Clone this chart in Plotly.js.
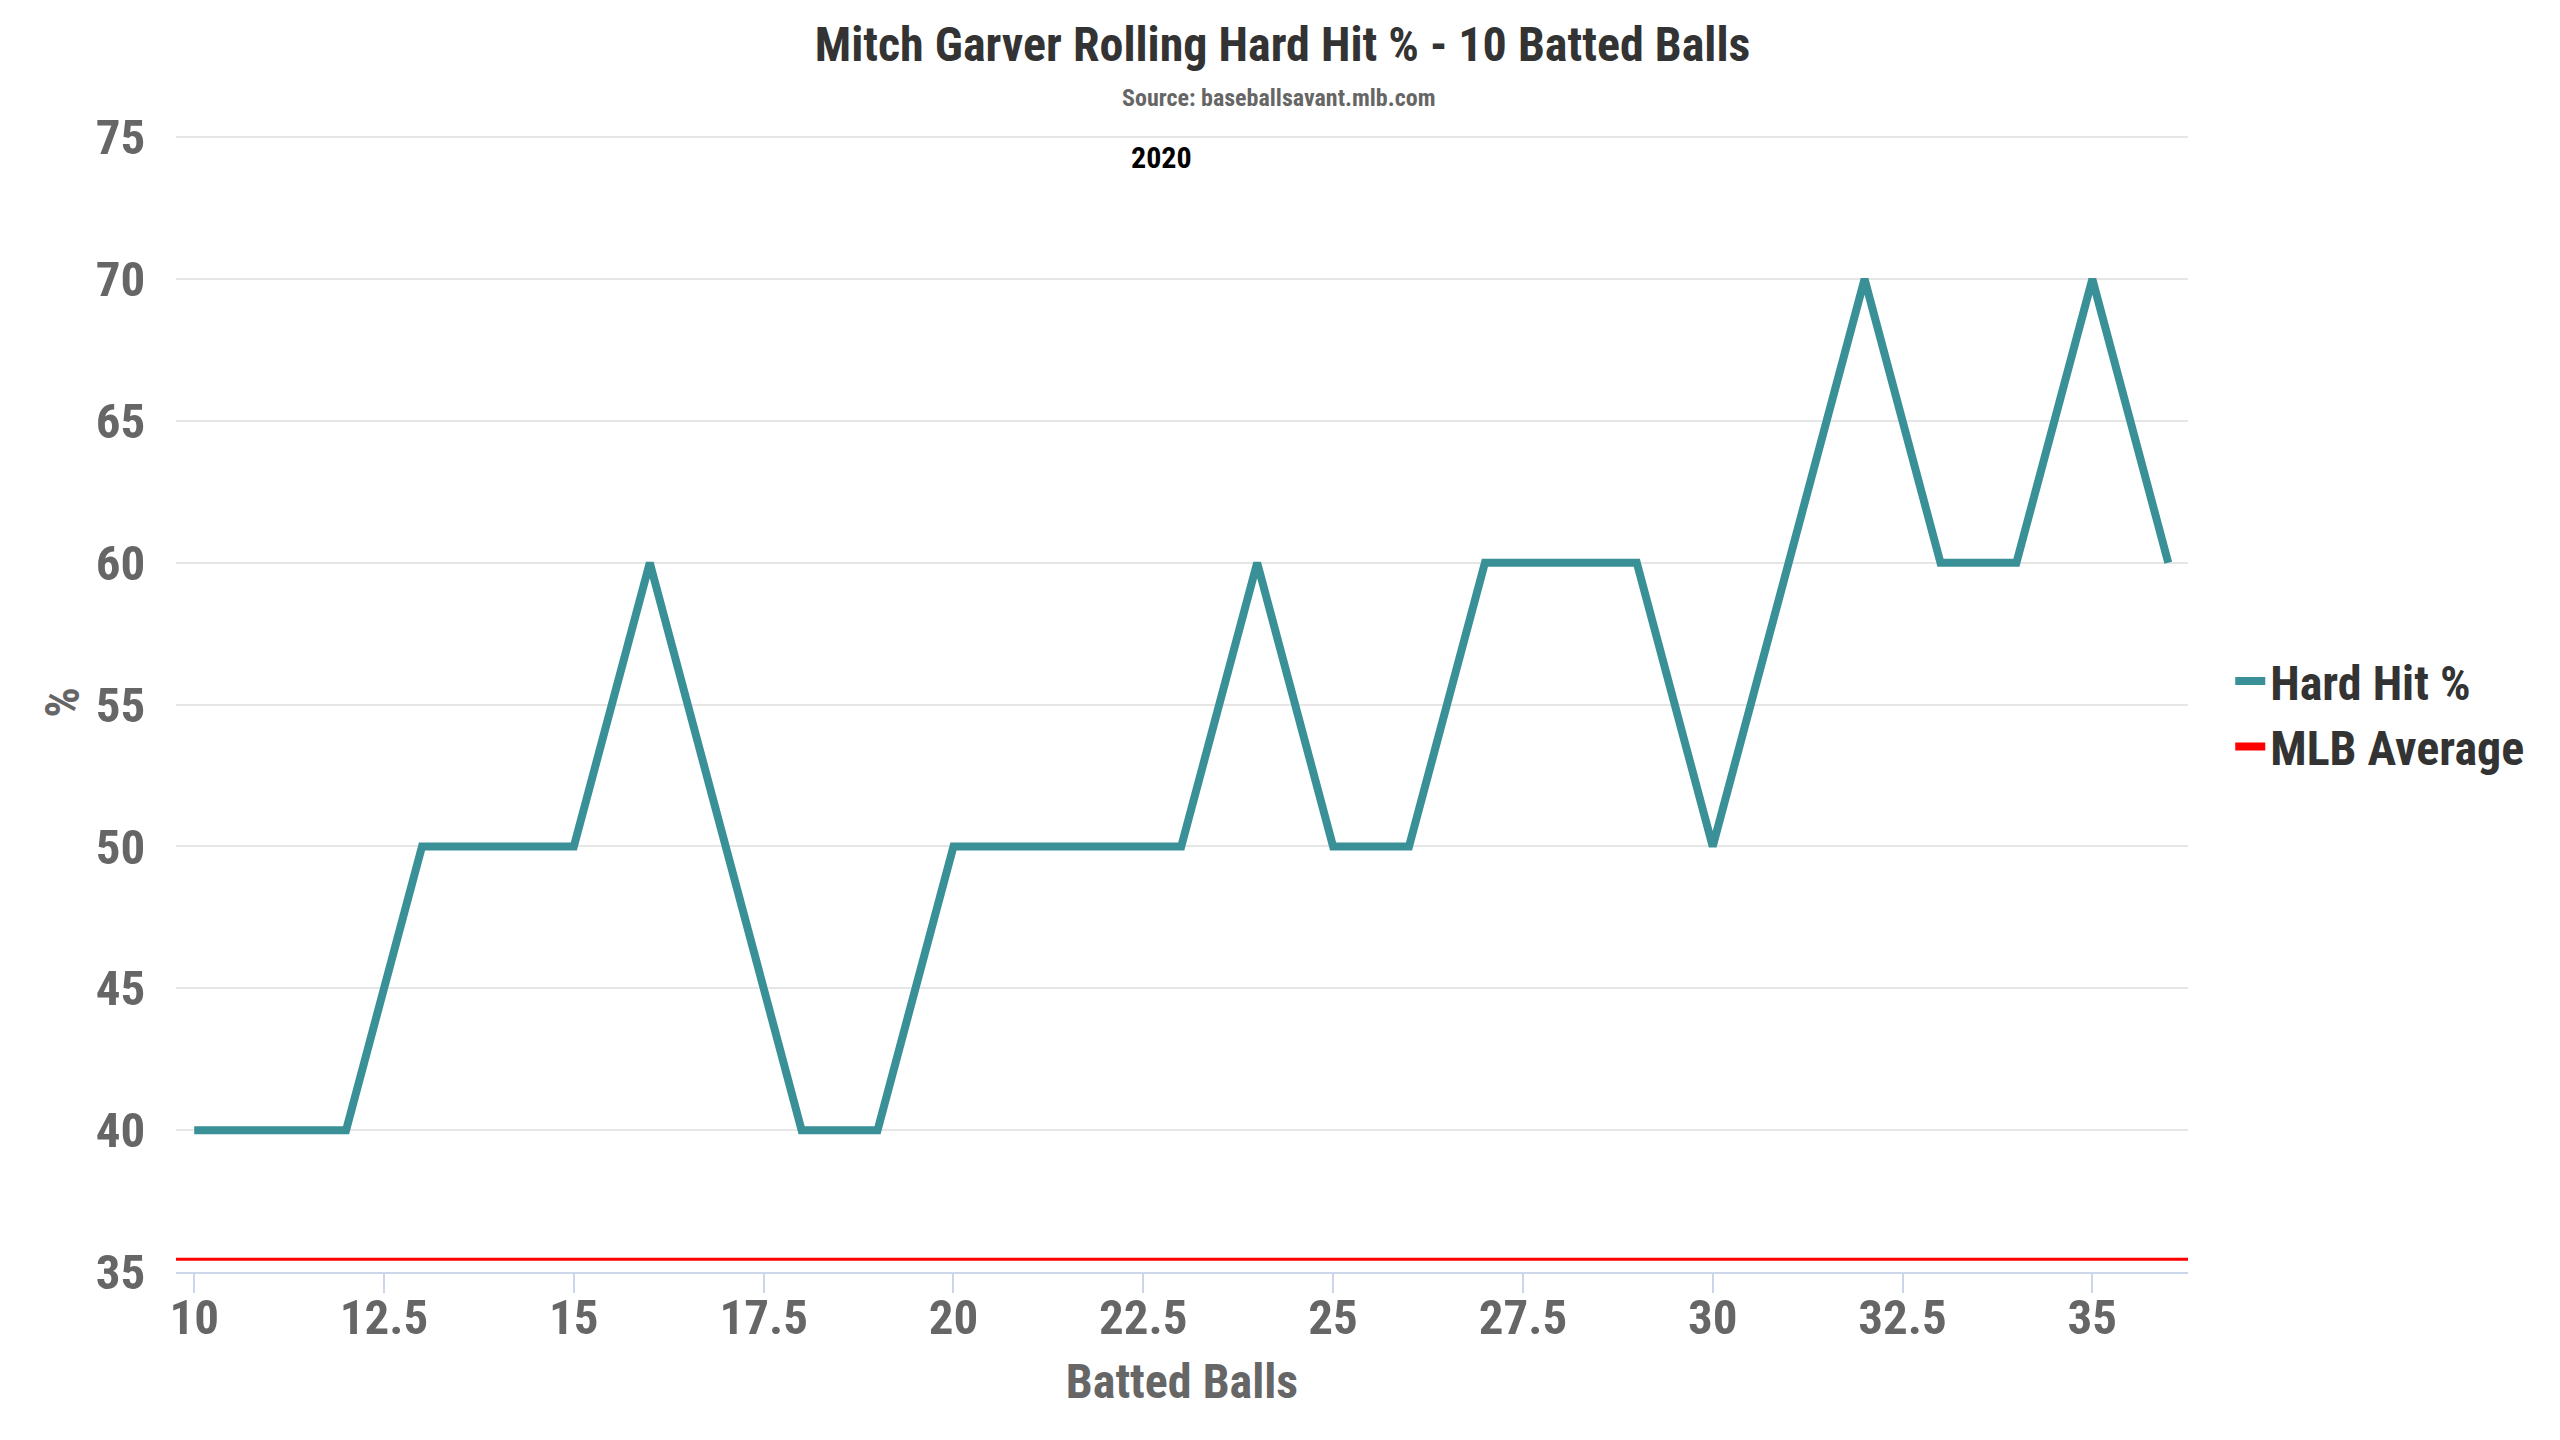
<!DOCTYPE html>
<html>
<head>
<meta charset="utf-8">
<script src="https://cdn.plot.ly/plotly-3.0.1.min.js"></script>
<style>
  html, body { margin: 0; padding: 0; background: #ffffff; }
  #chart { width: 2560px; height: 1440px; }
</style>
</head>
<body>
<div id="chart"></div>
<script>
// ---- data ----
const battedBalls = [10, 11, 12, 13, 14, 15, 16, 17, 18, 19, 20, 21, 22, 23, 24, 25, 26, 27, 28, 29, 30, 31, 32, 33, 34, 35, 36];
const hardHitPct  = [40, 40, 40, 50, 50, 50, 60, 50, 40, 40, 50, 50, 50, 50, 60, 50, 50, 60, 60, 60, 50, 60, 70, 60, 60, 70, 60];
const mlbAverage = 35.45;
const seasonLabel = "2020";
const yTickVals = [35, 40, 45, 50, 55, 60, 65, 70, 75];

const FONT = '"Roboto Condensed", "Liberation Sans Narrow", "Arial Narrow", Roboto, sans-serif';

const traces = [
  {
    x: battedBalls,
    y: hardHitPct,
    type: 'scatter',
    mode: 'lines',
    name: 'Hard Hit %',
    line: { color: '#3a9097', width: 8, shape: 'linear' },
    hoverinfo: 'x+y'
  },
  {
    x: [null],
    y: [null],
    type: 'scatter',
    mode: 'lines',
    name: 'MLB Average',
    line: { color: '#ff0000', width: 8 },
    hoverinfo: 'skip'
  }
];

const layout = {
  width: 2560,
  height: 1440,
  paper_bgcolor: '#ffffff',
  plot_bgcolor: '#ffffff',
  margin: { l: 176, r: 372, t: 133, b: 168, pad: 0 },
  font: { family: FONT, color: '#666666', weight: 'bold' },
  title: {
    text: 'Mitch Garver Rolling Hard Hit % - 10 Batted Balls',
    font: { family: FONT, size: 48, color: '#333333', weight: 'bold' },
    xref: 'container', x: 0.501, xanchor: 'center',
    yref: 'container', y: 1 - 44 / 1440, yanchor: 'middle'
  },
  xaxis: {
    range: [9.76, 36.26],
    tick0: 10, dtick: 2.5,
    showgrid: false,
    zeroline: false,
    showline: true, linecolor: '#ccd6eb', linewidth: 2,
    ticks: 'outside', ticklen: 19, tickwidth: 2, tickcolor: '#ccd6eb',
    ticklabelstandoff: -18,
    tickfont: { family: FONT, size: 49, color: '#666666', weight: 'bold' },
    title: {
      text: 'Batted Balls',
      font: { family: FONT, size: 48, color: '#666666', weight: 'bold' },
      standoff: 20
    }
  },
  yaxis: {
    range: [35, 75.15],
    tickvals: yTickVals,
    showgrid: true, gridcolor: '#e6e6e6', gridwidth: 2,
    zeroline: false,
    showline: false,
    ticks: 'outside', ticklen: 20, tickcolor: 'rgba(0,0,0,0)',
    tickfont: { family: FONT, size: 49, color: '#666666', weight: 'bold' },
    title: {
      text: '%',
      font: { family: FONT, size: 48, color: '#666666', weight: 'bold' },
      standoff: 0
    }
  },
  showlegend: true,
  legend: {
    x: 1.021, xanchor: 'left',
    y: 0.49, yanchor: 'middle',
    font: { family: FONT, size: 48, color: '#333333', weight: 'bold' },
    bgcolor: 'rgba(0,0,0,0)',
    borderwidth: 0,
    tracegroupgap: 0
  },
  shapes: [
    {
      type: 'line', xref: 'paper', x0: 0, x1: 1,
      yref: 'y', y0: mlbAverage, y1: mlbAverage,
      line: { color: '#ff0000', width: 3 },
      layer: 'above'
    }
  ],
  annotations: [
    {
      text: 'Source: baseballsavant.mlb.com',
      xref: 'paper', yref: 'paper',
      x: (1278 - 176) / 2012, y: (1272 - 98) / 1139,
      xanchor: 'center', yanchor: 'middle',
      showarrow: false,
      font: { family: FONT, size: 24, color: '#666666', weight: 'bold' }
    },
    {
      text: seasonLabel,
      xref: 'paper', yref: 'paper',
      x: (1161 - 176) / 2012, y: (1272 - 158) / 1139,
      xanchor: 'center', yanchor: 'middle',
      showarrow: false,
      font: { family: FONT, size: 30, color: '#000000', weight: 'bold' }
    }
  ]
};

Plotly.newPlot('chart', traces, layout, { displayModeBar: false, staticPlot: true });
</script>
</body>
</html>
